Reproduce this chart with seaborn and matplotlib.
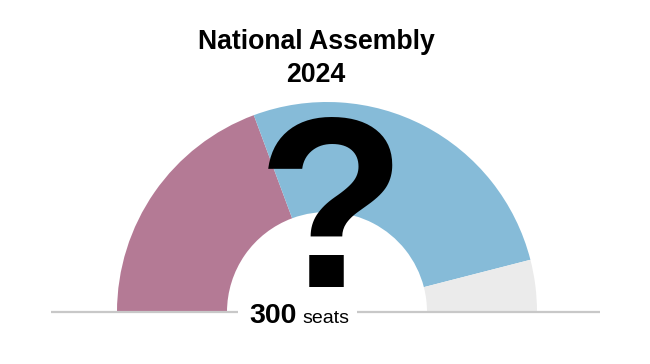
import matplotlib
matplotlib.use("Agg")
import matplotlib.pyplot as plt
import seaborn as sns

# Data
parties = ["Party A", "Party B", "Undecided"]
seats = [116, 160, 24]
total_seats = 300
title_lines = ["National Assembly", "2024"]

sns.set_theme(style="white")
plt.rcParams['font.family'] = ['Liberation Sans', 'DejaVu Sans']
palette = sns.color_palette(["#b47a95", "#86bbd8", "#ebebeb"])

W, H = 650, 364
fig = plt.figure(figsize=(6.5, 3.64), dpi=100)
ax = fig.add_axes([0, 0, 1, 1])

cx, cy = 327, 364 - 312
values = seats + [sum(seats)]
colors = list(palette) + [(1, 1, 1, 0)]
wedges, _ = ax.pie(values, colors=colors, startangle=180, counterclock=False,
                   center=(cx, cy), radius=210,
                   wedgeprops=dict(width=110, linewidth=0))
ax.set_xlim(0, W)
ax.set_ylim(0, H)
ax.set_aspect('equal')
ax.axis('off')

# baseline
ax.plot([51, 238], [cy, cy], color="#c8c8c8", lw=1.6, solid_capstyle='butt')
ax.plot([357, 600], [cy, cy], color="#c8c8c8", lw=1.6, solid_capstyle='butt')

# question mark
ax.text(332, 364 - 287, "?", fontsize=176, fontweight='bold', ha='center', va='baseline', color='black')

# seats label
ax.text(297, 364 - 323, str(total_seats), fontsize=20.5, fontweight='bold', ha='right', va='baseline', color='black')
ax.text(302, 364 - 323, "seats", fontsize=14, ha='left', va='baseline', color='black')

# title
ax.text(316, 364 - 49, title_lines[0], fontsize=19.2, fontweight='bold', ha='center', va='baseline', color='black')
ax.text(316, 364 - 82, title_lines[1], fontsize=19.2, fontweight='bold', ha='center', va='baseline', color='black')

fig.savefig("out.png", dpi=100, facecolor="white")
